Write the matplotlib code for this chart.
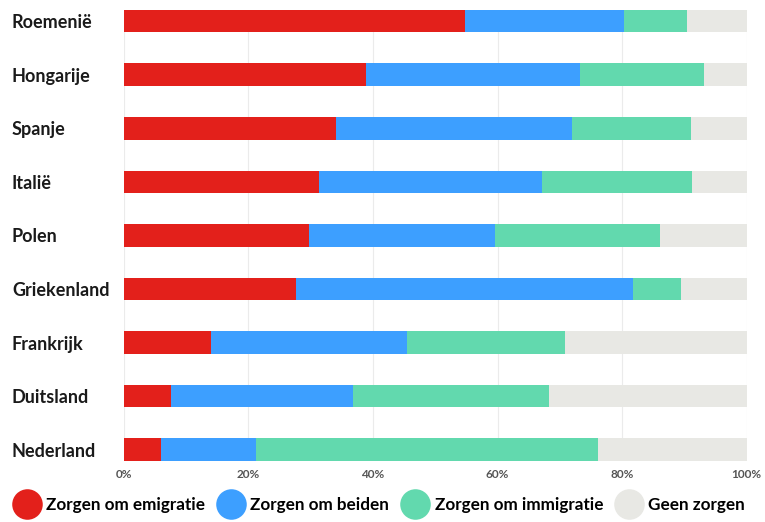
import matplotlib
matplotlib.use("Agg")
import matplotlib.pyplot as plt
from matplotlib.lines import Line2D
import numpy as np

countries = ["Roemenië", "Hongarije", "Spanje", "Italië", "Polen",
             "Griekenland", "Frankrijk", "Duitsland", "Nederland"]
emigratie = [54.7, 38.9, 34.1, 31.4, 29.8, 27.6, 14.0, 7.5, 6.0]
beiden = [25.6, 34.3, 37.9, 35.8, 29.8, 54.2, 31.5, 29.3, 15.2]
immigratie = [10.1, 19.9, 19.0, 24.0, 26.5, 7.6, 25.4, 31.5, 55.0]
geen = [9.6, 6.9, 9.0, 8.8, 13.9, 10.6, 29.1, 31.7, 23.8]

series_names = ["Zorgen om emigratie", "Zorgen om beiden",
                "Zorgen om immigratie", "Geen zorgen"]
colors = ["#E3201B", "#3D9FFF", "#62D9AE", "#E8E8E4"]
ticks = [0, 20, 40, 60, 80, 100]

plt.rcParams['font.family'] = ['Lato', 'DejaVu Sans']

fig = plt.figure(figsize=(7.65, 5.22), dpi=100)
ax = fig.add_axes([0.162, 0.117, 0.814, 0.864])

y = np.arange(len(countries))
h = 0.42
left = np.zeros(len(countries))
for vals, col in zip([emigratie, beiden, immigratie, geen], colors):
    ax.barh(y, vals, left=left, height=h, color=col, zorder=2)
    left += np.array(vals)

ax.set_xlim(0, 100)
ax.set_ylim(len(countries) - 1 + h / 2, -h / 2)
ax.set_xticks(ticks)
ax.set_xticklabels([f"{t}%" for t in ticks], fontsize=8.5, fontweight='bold', color="#555555")
ax.set_yticks(y)
ax.set_yticklabels(countries, fontsize=13, fontweight='bold', color="#1a1a1a", ha='left')
ax.tick_params(axis='y', length=0, pad=80.6)
ax.tick_params(axis='x', length=0, pad=6)
ax.grid(axis='x', color="#EBEBEB", lw=0.8, zorder=0)
for s in ax.spines.values():
    s.set_visible(False)

handles = [Line2D([], [], marker='o', ls='', markersize=22, color=c, markeredgewidth=0)
           for c in colors]
fig.legend(handles, series_names, loc='center', bbox_to_anchor=(0.496, 0.033), ncol=4,
           frameon=False, handletextpad=0.4, columnspacing=0.75, handlelength=1.5,
           prop={'weight': 'bold', 'size': 12.3})

plt.savefig("out.png", dpi=100)
